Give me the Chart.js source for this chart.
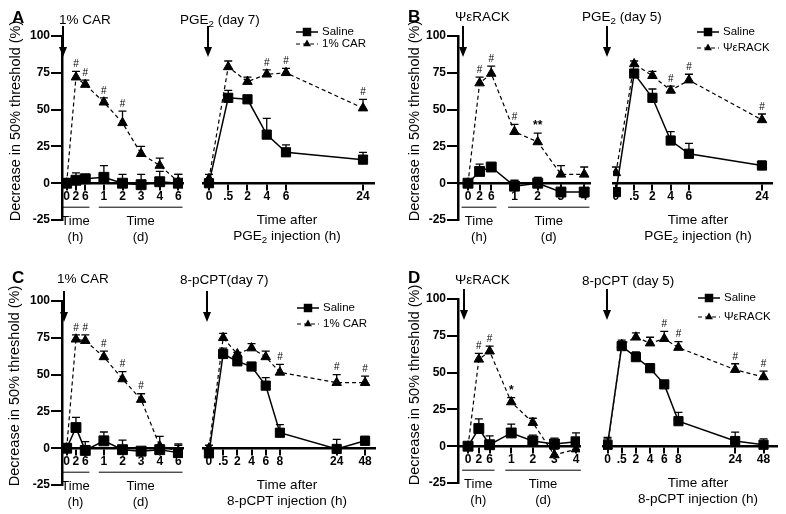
<!DOCTYPE html>
<html>
<head>
<meta charset="utf-8">
<script src="https://cdn.jsdelivr.net/npm/chart.js@4.4.1/dist/chart.umd.min.js"></script>
<style>
html, body { margin: 0; padding: 0; background: #fff; }
#fig { position: relative; width: 786px; height: 514px; overflow: hidden; }
#fig canvas { position: absolute; left: 0; top: 0; }
</style>
</head>
<body>
<div id="fig"></div>
<script>
// ---- data ----
const yTickValues = [-25, 0, 25, 50, 75, 100];

// x categories (label + slot on the axis)
const acTimeLabels = ['0', '2', '6', '1', '2', '3', '4', '6'];
const acTimeSlots = [0, 1, 2, 4, 6, 8, 10, 12];
const bdTimeLabels = ['0', '2', '6', '1', '2', '3', '4'];
const bdTimeSlots = [0, 1, 2, 4, 6, 8, 10];
const pgeLabels = ['0', '.5', '2', '4', '6', '24'];
const pgeSlots = [0, 1, 2, 3, 4, 8];
const cptLabels = ['0', '.5', '2', '4', '6', '8', '24', '48'];
const cptSlots = [0, 1, 2, 3, 4, 5, 9, 11];

// panel A
const aSalineTime = [0, 2, 3, 4, 0, -1, 1, 0];
const aSalineTimeErr = [3, 5, 3, 8, 6, 7, 7, 6];
const aCarTime = [0, 72, 67, 55, 41, 20, 12, 1];
const aCarTimeErr = [3, 4, 3, 3, 8, 5, 5, 5];
const aCarTimeSig = ['', '#', '#', '#', '#', '', '', ''];
const aSalinePge = [0, 58, 57, 33, 21, 16];
const aSalinePgeErr = [3, 5, 2, 11, 5, 5];
const aCarPge = [3, 79, 69, 74, 75, 51];
const aCarPgeErr = [3, 4, 3, 3, 3, 6];
const aCarPgeSig = ['', '', '', '#', '#', '#'];

// panel B
const bSalineTime = [0, 8, 11, -2, 0, -6, -6];
const bSalineTimeErr = [0, 5, 0, 4, 4, 6, 6];
const bRackTime = [0, 68, 74.5, 35, 28, 6, 6];
const bRackTimeErr = [0, 4, 5, 5, 6, 6, 5];
const bRackTimeSig = ['', '#', '#', '#', '**', '', ''];
const bSalinePge = [-6, 74.5, 58, 29, 20, 12];
const bSalinePgeErr = [0, 0, 6, 6, 7, 3];
const bRackPge = [7, 81, 73, 63, 70, 43];
const bRackPgeErr = [4, 2, 3, 3, 4, 4];
const bRackPgeSig = ['', '', '', '#', '#', '#'];

// panel C
const cSalineTime = [0, 14, -1.5, 5, -1, -2, -1, -3];
const cSalineTimeErr = [0, 7, 6, 6, 6.5, 0, 3, 5];
const cCarTime = [0, 74, 73, 62, 47, 33, 1.5, -2];
const cCarTimeErr = [0, 3, 4, 4, 5, 4, 6.5, 5];
const cCarTimeSig = ['', '#', '#', '#', '#', '#', '', ''];
const cSalineCpt = [-3.5, 64, 59, 55.5, 42.5, 10.5, -0.5, 5];
const cSalineCptErr = [3, 4, 0, 0, 5.5, 5.5, 6.5, 3];
const cCarCpt = [0, 75, 64, 68, 62, 51.5, 44.5, 44.5];
const cCarCptErr = [2, 3, 1, 3, 4, 5.5, 5.5, 4.5];
const cCarCptSig = ['', '', '', '', '', '#', '#', '#'];

// panel D
const dSalineTime = [0, 12, 1, 9, 3.5, 1.5, 3];
const dSalineTimeErr = [0, 6.5, 6, 6, 4, 4, 6];
const dRackTime = [0, 59, 64.5, 30, 16, -6, -2];
const dRackTimeErr = [0, 4, 3.5, 3, 3, 4, 3];
const dRackTimeSig = ['', '#', '#', '*', '', '', ''];
const dSalineCpt = [1, 68, 60.5, 53, 42, 17, 3.5, 1];
const dSalineCptErr = [5, 2, 3.5, 3, 0, 6, 6, 4];
const dRackCpt = [0, 69, 74, 70, 73, 67, 52, 47];
const dRackCptErr = [5, 3, 3, 4, 5, 4, 4, 4];
const dRackCptSig = ['', '', '', '', '#', '#', '#', '#'];

// ---- drawing ----
const FONT = '"Liberation Sans", Arial, sans-serif';
const fig = document.getElementById('fig');

function font(size, weight) {
  return (weight || 'normal') + ' ' + size + 'px ' + FONT;
}

// parts: [[text, isSubscript], ...]
function drawRich(ctx, parts, x, y, size, align) {
  ctx.save();
  ctx.textBaseline = 'middle';
  ctx.textAlign = 'left';
  ctx.fillStyle = '#000';
  const widths = parts.map(p => {
    ctx.font = font(p[1] ? size * 0.72 : size);
    return ctx.measureText(p[0]).width;
  });
  const total = widths.reduce((a, b) => a + b, 0);
  let cx = align === 'center' ? x - total / 2 : x;
  parts.forEach((p, i) => {
    ctx.font = font(p[1] ? size * 0.72 : size);
    ctx.fillText(p[0], cx, p[1] ? y + size * 0.32 : y);
    cx += widths[i];
  });
  ctx.restore();
}

function marker(ctx, style, x, y, r) {
  ctx.beginPath();
  if (style === 'rect') {
    const s = r * Math.SQRT1_2;
    ctx.rect(x - s, y - s, 2 * s, 2 * s);
  } else {
    ctx.moveTo(x, y - r);
    ctx.lineTo(x + r * 0.866, y + r * 0.5);
    ctx.lineTo(x - r * 0.866, y + r * 0.5);
    ctx.closePath();
  }
  ctx.fill();
}

function treatmentSet(slots, vals, errs, sig) {
  return {
    label: 'treatment',
    data: slots.map((x, i) => ({ x: x, y: vals[i] })),
    errUp: errs, sig: sig,
    borderColor: '#000', backgroundColor: '#000',
    borderWidth: 1.2, borderDash: [4, 3],
    pointStyle: 'triangle', pointRadius: 5.5, pointBorderWidth: 1
  };
}

function salineSet(slots, vals, errs, big) {
  return {
    label: 'Saline',
    data: slots.map((x, i) => ({ x: x, y: vals[i] })),
    errUp: errs, sig: [],
    borderColor: '#000', backgroundColor: '#000',
    borderWidth: 1.5,
    pointStyle: 'rect', pointRadius: big ? 7 : 6.5, pointBorderWidth: 1
  };
}

function decor(p) {
  return {
    id: 'decor',
    beforeDatasetsDraw(chart) {
      const ctx = chart.ctx, ys = chart.scales.y;
      ctx.save();
      ctx.strokeStyle = '#000';
      ctx.lineWidth = 1.3;
      chart.data.datasets.forEach((ds, i) => {
        chart.getDatasetMeta(i).data.forEach((pt, j) => {
          const e = ds.errUp[j];
          if (!e) return;
          const top = ys.getPixelForValue(ds.data[j].y + e);
          ctx.beginPath();
          ctx.moveTo(pt.x, pt.y);
          ctx.lineTo(pt.x, top);
          ctx.moveTo(pt.x - 4, top);
          ctx.lineTo(pt.x + 4, top);
          ctx.stroke();
        });
      });
      ctx.restore();
    },
    afterDraw(chart) {
      const ctx = chart.ctx, xs = chart.scales.x, ys = chart.scales.y;
      const area = chart.chartArea;
      const y0 = ys.getPixelForValue(0);
      ctx.save();
      ctx.fillStyle = '#000';
      ctx.strokeStyle = '#000';

      // significance marks
      ctx.textAlign = 'center';
      ctx.textBaseline = 'middle';
      chart.data.datasets.forEach((ds, i) => {
        chart.getDatasetMeta(i).data.forEach((pt, j) => {
          const s = ds.sig[j];
          if (!s) return;
          const top = ys.getPixelForValue(ds.data[j].y + (ds.errUp[j] || 0));
          ctx.font = s.indexOf('*') >= 0 ? font(12, 'bold') : font(10);
          ctx.fillText(s, pt.x, top - 7);
        });
      });

      // injection arrow
      ctx.lineWidth = 2;
      ctx.beginPath();
      ctx.moveTo(p.arrowX, area.top - 10);
      ctx.lineTo(p.arrowX, area.top + 12);
      ctx.stroke();
      ctx.beginPath();
      ctx.moveTo(p.arrowX - 4, area.top + 11);
      ctx.lineTo(p.arrowX + 4, area.top + 11);
      ctx.lineTo(p.arrowX, area.top + 21);
      ctx.closePath();
      ctx.fill();

      drawRich(ctx, p.top.parts, p.top.x, p.top.y, 13.5, 'left');

      if (p.letter) {
        ctx.font = font(17, 'bold');
        ctx.textAlign = 'left';
        ctx.fillText(p.letter[0], p.letter[1], p.letter[2]);
      }
      if (p.yTitle) {
        ctx.save();
        ctx.translate(p.yTitle[0], p.yTitle[1]);
        ctx.rotate(-Math.PI / 2);
        ctx.font = font(14.5);
        ctx.textAlign = 'center';
        ctx.fillText('Decrease in 50% threshold (%)', 0, 0);
        ctx.restore();
      }
      // grouped "Time (h)" / "Time (d)" labels
      (p.groups || []).forEach(g => {
        const x1 = xs.getPixelForValue(g[0] - 0.55);
        const x2 = xs.getPixelForValue(g[1] + 0.45);
        ctx.lineWidth = 1;
        ctx.beginPath();
        ctx.moveTo(x1, y0 + 24);
        ctx.lineTo(x2, y0 + 24);
        ctx.stroke();
        ctx.font = font(13);
        ctx.textAlign = 'center';
        ctx.fillText('Time', (x1 + x2) / 2, y0 + 38);
        ctx.fillText(g[2], (x1 + x2) / 2, y0 + 54);
      });
      if (p.xTitle) {
        p.xTitle.lines.forEach((ln, k) => {
          drawRich(ctx, ln, p.xTitle.x, y0 + 37 + k * 16, 13.5, 'center');
        });
      }
      if (p.legend) {
        const L = p.legend;
        [[L.y1, 'rect', 'Saline', []], [L.y2, 'triangle', L.label, [4, 3]]].forEach(r => {
          ctx.lineWidth = r[1] === 'rect' ? 1.5 : 1.2;
          ctx.setLineDash(r[3]);
          ctx.beginPath();
          ctx.moveTo(L.x, r[0]);
          ctx.lineTo(L.x + 22, r[0]);
          ctx.stroke();
          ctx.setLineDash([]);
          marker(ctx, r[1], L.x + 11, r[0], r[1] === 'rect' ? 6 : 4.5);
          ctx.font = font(11.5);
          ctx.textAlign = 'left';
          ctx.fillText(r[2], L.x + 26, r[0]);
        });
      }
      ctx.restore();
    }
  };
}

function makeChart(p) {
  const canvas = document.createElement('canvas');
  canvas.width = 786;
  canvas.height = 514;
  fig.appendChild(canvas);
  const box = p.box;
  const yScale = p.yAxis ? {
    min: -25, max: 100,
    afterBuildTicks: s => { s.ticks = yTickValues.map(v => ({ value: v })); },
    ticks: { color: '#000', font: { family: FONT, size: 12, weight: 'bold' }, padding: 1 },
    grid: { drawOnChartArea: false, tickLength: 11, color: '#000', lineWidth: 2 },
    border: { color: '#000', width: 2.5 },
    afterFit: s => { s.width = box[0]; }
  } : { display: false, min: -25, max: 100 };

  return new Chart(canvas, {
    type: 'line',
    data: { datasets: p.sets },
    options: {
      responsive: false,
      animation: false,
      devicePixelRatio: 1,
      events: [],
      layout: {
        padding: { left: p.yAxis ? 0 : box[0], top: box[1], right: 786 - box[2], bottom: 514 - box[3] }
      },
      plugins: { legend: { display: false }, tooltip: { enabled: false } },
      scales: {
        x: {
          type: 'linear',
          position: { y: 0 },
          min: p.xMin, max: p.xMax,
          afterBuildTicks: s => { s.ticks = p.slots.map(v => ({ value: v })); },
          ticks: {
            callback: (v, i) => p.labels[i],
            color: '#000', font: { family: FONT, size: 12, weight: 'bold' },
            padding: 0, autoSkip: false, maxRotation: 0, minRotation: 0
          },
          grid: { drawOnChartArea: false, tickLength: 6, color: '#000', lineWidth: 2 },
          border: { color: '#000', width: 2.5 }
        },
        y: yScale
      }
    },
    plugins: [decor(p)]
  });
}

const pge = t => [['PGE'], ['2', true], [t]];

const panels = [
  { // A, time course
    box: [62, 36, 183, 220], xMin: -0.5, xMax: 12.5, yAxis: true,
    slots: acTimeSlots, labels: acTimeLabels,
    sets: [treatmentSet(acTimeSlots, aCarTime, aCarTimeErr, aCarTimeSig),
           salineSet(acTimeSlots, aSalineTime, aSalineTimeErr, true)],
    letter: ['A', 12, 18], yTitle: [16, 121],
    top: { parts: [['1% CAR']], x: 59, y: 20 }, arrowX: 63,
    groups: [[0, 2, '(h)'], [4, 12, '(d)']]
  },
  { // A, PGE2
    box: [203, 36, 374, 220], xMin: -0.31, xMax: 8.57,
    slots: pgeSlots, labels: pgeLabels,
    sets: [treatmentSet(pgeSlots, aCarPge, aCarPgeErr, aCarPgeSig),
           salineSet(pgeSlots, aSalinePge, aSalinePgeErr)],
    top: { parts: pge(' (day 7)'), x: 180, y: 20 }, arrowX: 208,
    xTitle: { x: 287, lines: [[['Time after']], pge(' injection (h)')] },
    legend: { x: 296, y1: 32, y2: 44, label: '1% CAR' }
  },
  { // B, time course
    box: [458, 36, 590, 220], xMin: -0.86, xMax: 10.5, yAxis: true,
    slots: bdTimeSlots, labels: bdTimeLabels,
    sets: [treatmentSet(bdTimeSlots, bRackTime, bRackTimeErr, bRackTimeSig),
           salineSet(bdTimeSlots, bSalineTime, bSalineTimeErr, true)],
    letter: ['B', 408, 17], yTitle: [415, 121],
    top: { parts: [['ΨεRACK']], x: 455, y: 17 }, arrowX: 463,
    groups: [[0, 2, '(h)'], [4, 10, '(d)']]
  },
  { // B, PGE2
    box: [613, 36, 772, 220], xMin: -0.16, xMax: 8.55,
    slots: pgeSlots, labels: pgeLabels,
    sets: [treatmentSet(pgeSlots, bRackPge, bRackPgeErr, bRackPgeSig),
           salineSet(pgeSlots, bSalinePge, bSalinePgeErr)],
    top: { parts: pge(' (day 5)'), x: 582, y: 17 }, arrowX: 607,
    xTitle: { x: 698, lines: [[['Time after']], pge(' injection (h)')] },
    legend: { x: 697, y1: 32, y2: 48, label: 'ΨεRACK' }
  },
  { // C, time course
    box: [62, 301, 183, 485], xMin: -0.5, xMax: 12.5, yAxis: true,
    slots: acTimeSlots, labels: acTimeLabels,
    sets: [treatmentSet(acTimeSlots, cCarTime, cCarTimeErr, cCarTimeSig),
           salineSet(acTimeSlots, cSalineTime, cSalineTimeErr, true)],
    letter: ['C', 12, 278], yTitle: [15, 386],
    top: { parts: [['1% CAR']], x: 57, y: 279 }, arrowX: 64,
    groups: [[0, 2, '(h)'], [4, 12, '(d)']]
  },
  { // C, 8-pCPT
    box: [203, 301, 375, 485], xMin: -0.42, xMax: 11.7,
    slots: cptSlots, labels: cptLabels,
    sets: [treatmentSet(cptSlots, cCarCpt, cCarCptErr, cCarCptSig),
           salineSet(cptSlots, cSalineCpt, cSalineCptErr)],
    top: { parts: [['8-pCPT(day 7)']], x: 180, y: 280 }, arrowX: 207,
    xTitle: { x: 287, lines: [[['Time after']], [['8-pCPT injection (h)']]] },
    legend: { x: 297, y1: 308, y2: 324, label: '1% CAR' }
  },
  { // D, time course
    box: [458, 299, 580, 483], xMin: -0.93, xMax: 10.37, yAxis: true,
    slots: bdTimeSlots, labels: bdTimeLabels,
    sets: [treatmentSet(bdTimeSlots, dRackTime, dRackTimeErr, dRackTimeSig),
           salineSet(bdTimeSlots, dSalineTime, dSalineTimeErr, true)],
    letter: ['D', 408, 278], yTitle: [415, 385],
    top: { parts: [['ΨεRACK']], x: 455, y: 280 }, arrowX: 464,
    groups: [[0, 2, '(h)'], [4, 10, '(d)']]
  },
  { // D, 8-pCPT
    box: [603, 299, 777, 483], xMin: -0.32, xMax: 11.95,
    slots: cptSlots, labels: cptLabels,
    sets: [treatmentSet(cptSlots, dRackCpt, dRackCptErr, dRackCptSig),
           salineSet(cptSlots, dSalineCpt, dSalineCptErr)],
    top: { parts: [['8-pCPT (day 5)']], x: 582, y: 281 }, arrowX: 607,
    xTitle: { x: 698, lines: [[['Time after']], [['8-pCPT injection (h)']]] },
    legend: { x: 698, y1: 298, y2: 317, label: 'ΨεRACK' }
  }
];

panels.forEach(makeChart);
</script>
</body>
</html>
